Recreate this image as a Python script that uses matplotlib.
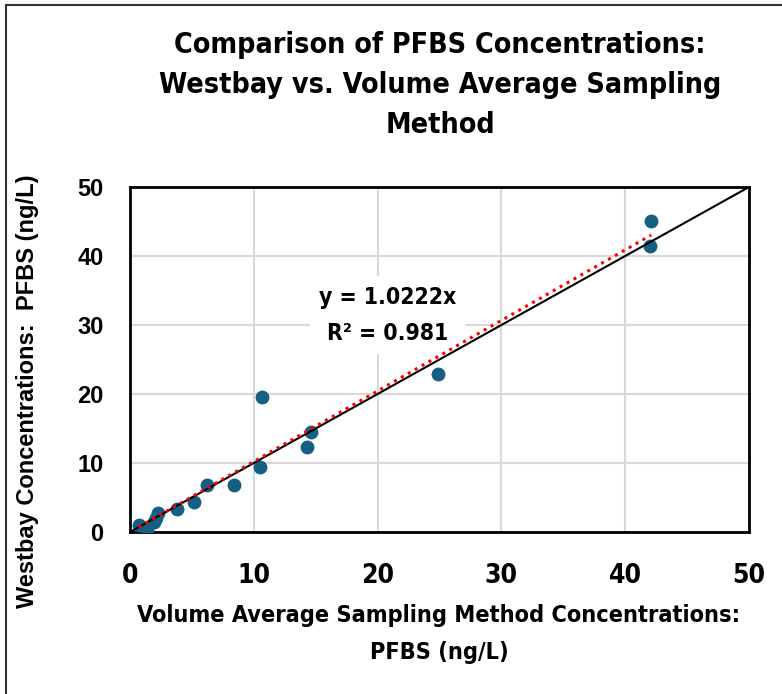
import numpy as np
import matplotlib
matplotlib.use("Agg")
import matplotlib.pyplot as plt
from matplotlib.lines import Line2D

# PFBS concentrations (ng/L): volume average sampling vs Westbay
vol_avg = [0.7, 1.4, 1.9, 2.1, 2.3, 3.8, 5.2, 6.2, 8.4, 10.5, 10.7, 14.3, 14.6, 24.9, 42.0, 42.1]
westbay = [1.0, 0.3, 1.4, 2.0, 2.7, 3.4, 4.3, 6.8, 6.8, 9.4, 19.6, 12.3, 14.5, 22.9, 41.4, 45.0]

slope = 1.0222
r_squared = 0.981
ticks = [0, 10, 20, 30, 40, 50]

narrow = dict(fontfamily='DejaVu Sans', fontstretch='condensed', fontweight='bold')
arial = dict(fontfamily=['Liberation Sans', 'DejaVu Sans'], fontweight='bold')

fig = plt.figure(figsize=(7.82, 6.94), dpi=100)
ax = fig.add_axes([130 / 782, 1 - 532 / 694, 619 / 782, 345 / 694])

# outer chart border (left and top only visible)
fig.add_artist(Line2D([6 / 782, 6 / 782], [0, 1 - 5 / 694], color='#333333', lw=1.5))
fig.add_artist(Line2D([6 / 782, 1], [1 - 5 / 694, 1 - 5 / 694], color='#333333', lw=1.5))

ax.scatter(vol_avg, westbay, s=100, color='#156082', zorder=3, linewidths=0)

# 1:1 line
ax.plot([0, 50], [0, 50], color='black', lw=1.5, zorder=4)

# linear trendline through origin
xs = np.array([min(vol_avg), max(vol_avg)])
ax.plot(xs, slope * xs, color='red', lw=2.2, ls=(0, (1, 1.6)), zorder=5)

ax.set_xlim(0, 50)
ax.set_ylim(0, 50)
ax.set_xticks(ticks)
ax.set_yticks(ticks)
ax.grid(True, color='#d9d9d9', lw=1.5, zorder=0)
ax.set_axisbelow(True)
for sp in ax.spines.values():
    sp.set_linewidth(2)
    sp.set_color('black')
ax.tick_params(length=0)
ax.tick_params(axis='x', pad=22)
ax.tick_params(axis='y', pad=19)
for lab in ax.get_xticklabels():
    lab.set(fontsize=19, **narrow)
for lab in ax.get_yticklabels():
    lab.set(fontsize=17, **arial)

# trendline label, white box hides the grid only
ax.text(20.8, 31.4, f'y = {slope}x\nR² = {r_squared}', ha='center', va='center',
        fontsize=16.5, linespacing=1.75,
        bbox=dict(facecolor='white', edgecolor='none', boxstyle='square,pad=0.4'),
        zorder=2, **narrow)

fig.text(440 / 782, 1 - 85 / 694,
         'Comparison of PFBS Concentrations:\nWestbay vs. Volume Average Sampling\nMethod',
         ha='center', va='center', fontsize=20.5, linespacing=1.55, **narrow)

fig.text(439 / 782, 1 - 634 / 694,
         'Volume Average Sampling Method Concentrations:\nPFBS (ng/L)',
         ha='center', va='center', fontsize=16.8, linespacing=1.75, **narrow)

fig.text(28 / 782, 1 - 391 / 694, 'Westbay Concentrations:  PFBS (ng/L)',
         ha='center', va='center', rotation=90, fontsize=17, **arial)

fig.savefig('out.png', dpi=100)
